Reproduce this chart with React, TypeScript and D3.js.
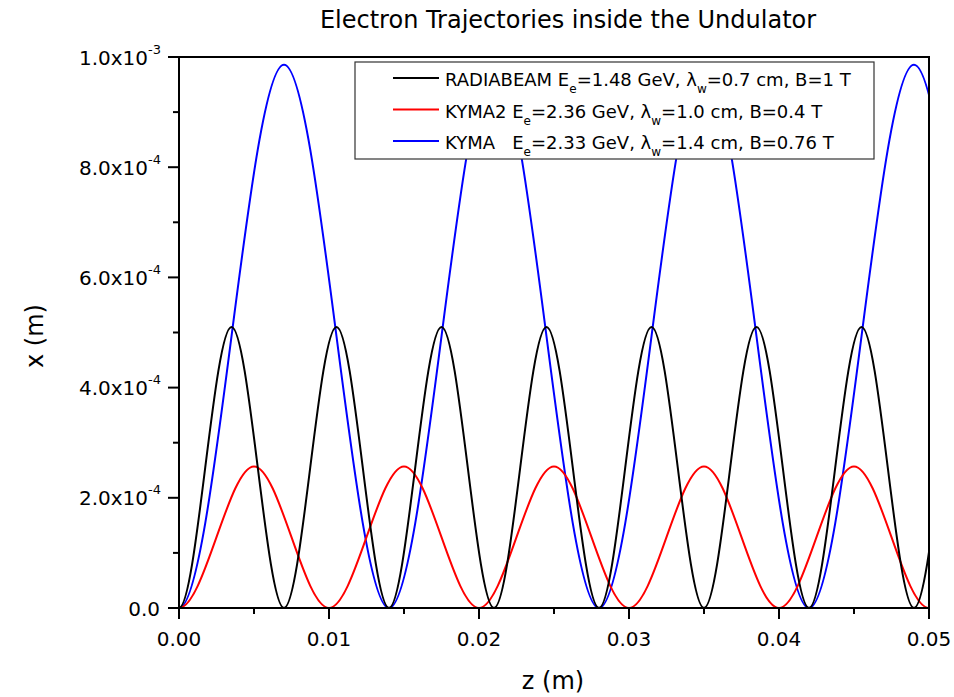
import React from "react";
import * as d3 from "d3";

// RADIABEAM: extremes of trajectory (z in m, x in m); points beyond [0, 0.05] fall outside the clipped frame
const blackZ = [-0.0035, 0, 0.0035, 0.007, 0.0105, 0.014, 0.0175, 0.021, 0.0245, 0.028, 0.0315, 0.035, 0.0385, 0.042, 0.0455, 0.049, 0.0525, 0.056];
const blackX = [5.1e-4, 0, 5.1e-4, 0, 5.1e-4, 0, 5.1e-4, 0, 5.1e-4, 0, 5.1e-4, 0, 5.1e-4, 0, 5.1e-4, 0, 5.1e-4, 0];
// KYMA2
const redZ = [-0.005, 0, 0.005, 0.01, 0.015, 0.02, 0.025, 0.03, 0.035, 0.04, 0.045, 0.05, 0.055, 0.06];
const redX = [2.57e-4, 0, 2.57e-4, 0, 2.57e-4, 0, 2.57e-4, 0, 2.57e-4, 0, 2.57e-4, 0, 2.57e-4, 0];
// KYMA
const blueZ = [-0.007, 0, 0.007, 0.014, 0.021, 0.028, 0.035, 0.042, 0.049, 0.056, 0.063];
const blueX = [9.86e-4, 0, 9.86e-4, 0, 9.86e-4, 0, 9.86e-4, 0, 9.86e-4, 0, 9.86e-4];

const xTicks = [0, 0.01, 0.02, 0.03, 0.04, 0.05];
const xTickLabels = ["0.00", "0.01", "0.02", "0.03", "0.04", "0.05"];
const xMinor = [0.005, 0.015, 0.025, 0.035, 0.045];
const yTicks = [0, 2e-4, 4e-4, 6e-4, 8e-4, 1e-3];
const yMant = ["0.0", "2.0x10", "4.0x10", "6.0x10", "8.0x10", "1.0x10"];
const yExp = ["", "-4", "-4", "-4", "-4", "-3"];
const yMinor = [1e-4, 3e-4, 5e-4, 7e-4, 9e-4];

const FONT = "DejaVu Sans, sans-serif";

export default function App() {
  const x = d3.scaleLinear().domain([0, 0.05]).range([179, 929]);
  const y = d3.scaleLinear().domain([0, 1e-3]).range([608, 57]);
  const line = d3
    .line<[number, number]>()
    .x((d) => x(d[0]))
    .y((d) => y(d[1]))
    .curve(d3.curveMonotoneX);
  const mk = (zs: number[], xs: number[]) => line(zs.map((z, i) => [z, xs[i]] as [number, number])) || "";

  const series = [
    { d: mk(blueZ, blueX), c: "#0000ff" },
    { d: mk(redZ, redX), c: "#ff0000" },
    { d: mk(blackZ, blackX), c: "#000000" },
  ];

  const lx0 = 355, ly0 = 62, lw = 519, lh = 97;
  const rows = [
    { c: "#000000", name: "RADIABEAM E", e: "=1.48 GeV, λ", w: "=0.7 cm, B=1 T" },
    { c: "#ff0000", name: "KYMA2 E", e: "=2.36 GeV, λ", w: "=1.0 cm, B=0.4 T" },
    { c: "#0000ff", name: "KYMA\u00a0\u00a0\u00a0E", e: "=2.33 GeV, λ", w: "=1.4 cm, B=0.76 T" },
  ];

  return (
    <svg width={954} height={697} style={{ position: "absolute", left: 0, top: 0, background: "#fff" }} fontFamily={FONT}>
      <rect width={954} height={697} fill="#fff" />
      <defs>
        <clipPath id="plot">
          <rect x={179} y={40} width={750} height={568} />
        </clipPath>
      </defs>
      <text x={568} y={28} textAnchor="middle" fontSize={24} fill="#000">
        Electron Trajectories inside the Undulator
      </text>
      <g clipPath="url(#plot)">
        {series.map((s, i) => (
          <path key={i} d={s.d} fill="none" stroke={s.c} strokeWidth={2} />
        ))}
      </g>
      {/* legend */}
      <rect x={lx0} y={ly0} width={lw} height={lh} fill="#fff" stroke="#333" strokeWidth={1.2} />
      {rows.map((r, i) => {
        const cy = 78 + i * 31.5;
        return (
          <g key={i}>
            <line x1={393} x2={439} y1={cy} y2={cy} stroke={r.c} strokeWidth={2} />
            <text x={445} y={cy + 8} fontSize={18} fill="#000" style={{ whiteSpace: "pre" }}>
              {r.name}
              <tspan fontSize={12} dy={7}>e</tspan>
              <tspan dy={-7}>{r.e}</tspan>
              <tspan fontSize={12} dy={7}>w</tspan>
              <tspan dy={-7}>{r.w}</tspan>
            </text>
          </g>
        );
      })}
      {/* frame */}
      <rect x={179} y={57} width={750} height={551} fill="none" stroke="#000" strokeWidth={2} />
      {/* x axis ticks */}
      {xTicks.map((t, i) => (
        <g key={"xt" + i}>
          <line x1={x(t)} x2={x(t)} y1={608} y2={619} stroke="#000" strokeWidth={2} />
          <text x={x(t)} y={646} textAnchor="middle" fontSize={20} fill="#000">
            {xTickLabels[i]}
          </text>
        </g>
      ))}
      {xMinor.map((t, i) => (
        <line key={"xm" + i} x1={x(t)} x2={x(t)} y1={608} y2={614} stroke="#000" strokeWidth={2} />
      ))}
      {/* y axis ticks */}
      {yTicks.map((t, i) => (
        <g key={"yt" + i}>
          <line x1={168} x2={179} y1={y(t)} y2={y(t)} stroke="#000" strokeWidth={2} />
          <text x={yExp[i] ? 161 : 160} y={y(t) + 7.5} textAnchor="end" fontSize={20} fill="#000">
            {yMant[i]}
            {yExp[i] ? (
              <tspan fontSize={13} dy={-11}>{yExp[i]}</tspan>
            ) : null}
          </text>
        </g>
      ))}
      {yMinor.map((t, i) => (
        <line key={"ym" + i} x1={173} x2={179} y1={y(t)} y2={y(t)} stroke="#000" strokeWidth={2} />
      ))}
      <text x={553} y={689} textAnchor="middle" fontSize={24} fill="#000">
        z (m)
      </text>
      <text transform="translate(43,336) rotate(-90)" textAnchor="middle" fontSize={24} fill="#000">
        x (m)
      </text>
    </svg>
  );
}
